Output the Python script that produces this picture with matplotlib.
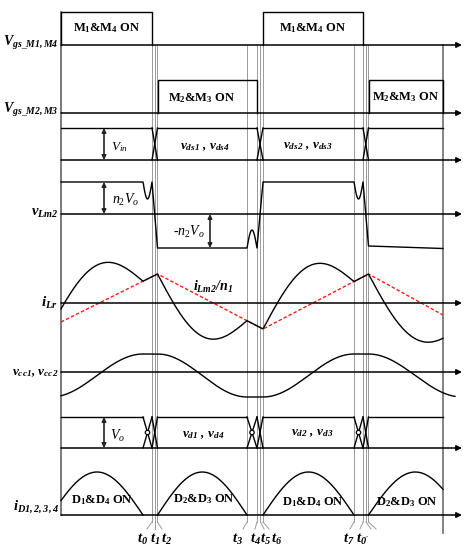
import numpy as np
import matplotlib
matplotlib.use('Agg')
import matplotlib.pyplot as plt
from matplotlib.patches import Circle

plt.rcParams.update({
    'mathtext.fontset': 'custom',
    'mathtext.rm': 'Liberation Serif',
    'mathtext.it': 'Liberation Serif:italic',
    'mathtext.bf': 'Liberation Serif:bold',
    'mathtext.bfit': 'Liberation Serif:italic:bold',
    'font.family': ['Liberation Serif', 'DejaVu Serif'],
})

# ---------------- data (positions on the drawing sheet) ----------------
x_left, x_right, x_arrow = 61, 443, 462
# channel baselines
y_gs14, y_gs23, y_vds, y_vlm, y_ilr, y_vcc, y_vd, y_id = 45, 113, 160, 214, 303, 372, 448, 515
# gate pulses
m14_on = [(61, 152), (263, 363)]
m23_on = [(158, 257), (369, 443)]
gs14_high, gs23_high = 12, 80
# dead-time groups (vds crossings)
dead = [(152, 157.5), (257, 263), (363, 368.5)]
vds_high = 128
# diode-commutation groups: (diode off, crossing, resume)
vd_groups = [(143, 152, 157.5), (247, 257, 263), (354, 363, 368.5)]
vd_high = 417
# magnetizing-inductor voltage
vlm_high, vlm_low, vlm_low_end = 182, 248, 246
vlm_dips = [(143, 152), (354, 363)]
vlm_bump = (247, 257)
dip_depth, bump_height = 17, 18
# magnetizing current (red) vertices
ilm_x = [61, 157.5, 263, 368.5, 443]
ilm_y = [322, 274, 329, 274, 315]
# diode conduction arcs (start, end, +1 = D1&D4, -1 = D2&D3)
arcs = [(51, 143, 1), (157.5, 247, -1), (263, 354, 1), (368.5, 462, -1)]
ilr_amp, id_amp = 39, 43
vcc_top, vcc_bot, vcc_end = 354, 397, 455
# switching instants
event_x = [152, 155, 157.5, 247, 257, 260.5, 263, 354, 363, 366, 368.5]
tick_end_x = [147, 155, 162, 243, 255, 264, 269, 350, 360, 371, 376]
t_names = ['0', '1', '2', '3', '4', '5', '6', '7', "0'"]
t_label_x = [143, 155, 167, 238, 255, 266, 277, 349, 363]

# ---------------- figure ----------------
fig = plt.figure(figsize=(4.74, 5.5), dpi=100)
ax = fig.add_axes([0, 0, 1, 1])
ax.set_xlim(0, 474)
ax.set_ylim(550, 0)
ax.axis('off')

K = 'black'
G = '#9a9a9a'
lw = 1.0
BI = dict(fontweight='bold', fontstyle='italic')

# borders and gray event lines
ax.plot([x_left, x_left], [gs14_high, y_id], color='#6e6e6e', lw=1.3)
ax.plot([x_right, x_right], [y_gs14, 533], color='#6e6e6e', lw=1.2)
for xe, xt in zip(event_x, tick_end_x):
    ax.plot([xe, xe], [y_gs14, 522], color=G, lw=0.7)
    ax.plot([xe, xt], [522, 529], color=G, lw=0.7)
for nm, lx in zip(t_names, t_label_x):
    ax.text(lx, 539, r'$\mathbfit{t}_{\mathbfit{%s}}$' % nm, ha='center', va='center', fontsize=10.5)

# axes arrows
for yb in [y_gs14, y_gs23, y_vds, y_vlm, y_ilr, y_vcc, y_vd, y_id]:
    ax.annotate('', xy=(x_arrow, yb), xytext=(x_left, yb),
                arrowprops=dict(arrowstyle='-|>', color=K, lw=1.1, mutation_scale=8,
                                shrinkA=0, shrinkB=0))

# gate pulses
for (a, b) in m14_on:
    ax.plot([a, a, b, b], [y_gs14, gs14_high, gs14_high, y_gs14], color=K, lw=lw)
for (a, b) in m23_on:
    ax.plot([a, a, b, b], [y_gs23, gs23_high, gs23_high, y_gs23], color=K, lw=lw)
for (a, b) in m14_on:
    ax.text((a + b) / 2, 28.5, r'M$_\mathbf{1}$&M$_\mathbf{4}$ ON', ha='center', va='center', fontsize=9, fontweight='bold')
ax.text(202, 98, r'M$_\mathbf{2}$&M$_\mathbf{3}$ ON', ha='center', va='center', fontsize=9, fontweight='bold')
ax.text(406, 97, r'M$_\mathbf{2}$&M$_\mathbf{3}$ ON', ha='center', va='center', fontsize=9, fontweight='bold')

# vds
hs = [x_left] + [d[1] for d in dead]
he = [d[0] for d in dead] + [x_right]
for a, b in zip(hs, he):
    ax.plot([a, b], [vds_high, vds_high], color=K, lw=lw)
for (a, b) in dead:
    ax.plot([a, b], [vds_high, y_vds], color=K, lw=lw)
    ax.plot([a, b], [y_vds, vds_high], color=K, lw=lw)

# vLm2
def seg(x0, x1, n=40):
    return np.linspace(x0, x1, n)
xs, ys = [], []
xs += [x_left, vlm_dips[0][0]]; ys += [vlm_high, vlm_high]
xx = seg(*vlm_dips[0]); xs += list(xx); ys += list(vlm_high + dip_depth * np.sin(np.pi * (xx - vlm_dips[0][0]) / (vlm_dips[0][1] - vlm_dips[0][0])))
xs += [dead[0][1], vlm_bump[0]]; ys += [vlm_low, vlm_low]
xx = seg(*vlm_bump); xs += list(xx); ys += list(vlm_low - bump_height * np.sin(np.pi * (xx - vlm_bump[0]) / (vlm_bump[1] - vlm_bump[0])))
xs += [dead[1][1], vlm_dips[1][0]]; ys += [vlm_high, vlm_high]
xx = seg(*vlm_dips[1]); xs += list(xx); ys += list(vlm_high + dip_depth * np.sin(np.pi * (xx - vlm_dips[1][0]) / (vlm_dips[1][1] - vlm_dips[1][0])))
xs += [dead[2][1], x_right]; ys += [vlm_low_end, vlm_low + 0.5]
ax.plot(xs, ys, color=K, lw=lw)

# iLm (red) and iLr
ax.plot(ilm_x, ilm_y, color='#ff1a1a', lw=1.0, ls=(0, (2.5, 1.5)))
xg = np.linspace(x_left, x_right, 800)
ilr = np.interp(xg, ilm_x, ilm_y)
for (a, b, s) in arcs:
    m = (xg >= a) & (xg <= b)
    ilr[m] -= s * ilr_amp * np.sin(np.pi * (xg[m] - a) / (b - a))
ax.plot(xg, ilr, color=K, lw=lw)

# vcc
xv = np.linspace(x_left, vcc_end, 800)
mid, amp = (vcc_top + vcc_bot) / 2, (vcc_bot - vcc_top) / 2
vcc = np.empty_like(xv)
for i, x in enumerate(xv):
    val = None
    for (a, b, s) in arcs:
        if a <= x <= b:
            val = mid + s * amp * np.cos(np.pi * (x - a) / (b - a))
            break
    if val is None:
        prev = [arc for arc in arcs if arc[1] < x][-1]
        val = mid - prev[2] * amp
    vcc[i] = val
ax.plot(xv, vcc, color=K, lw=lw)

# vd
starts = [x_left] + [g[2] for g in vd_groups]
ends = [g[0] for g in vd_groups] + [x_right]
for a, b in zip(starts, ends):
    ax.plot([a, b], [vd_high, vd_high], color=K, lw=lw)
for (a, c, b) in vd_groups:
    ax.plot([a, c], [vd_high, y_vd], color=K, lw=lw)
    ax.plot([a, c], [y_vd, vd_high], color=K, lw=lw)
    ax.plot([c, b], [vd_high, y_vd], color=K, lw=lw)
    ax.plot([c, b], [y_vd, vd_high], color=K, lw=lw)
    ax.add_patch(Circle(((a + c) / 2, (vd_high + y_vd) / 2), 2.2, fill=True, fc='white', ec=K, lw=0.9, zorder=5))

# iD arcs
for (a, b, s) in arcs:
    xx = np.linspace(max(a, x_left), min(b, x_right), 200)
    ax.plot(xx, y_id - id_amp * np.sin(np.pi * (xx - a) / (b - a)), color=K, lw=lw)
d14 = r'D$_\mathbf{1}$&D$_\mathbf{4}$ ON'
d23 = r'D$_\mathbf{2}$&D$_\mathbf{3}$ ON'
ax.text(102, 500, d14, ha='center', va='center', fontsize=9, fontweight='bold')
ax.text(204, 499, d23, ha='center', va='center', fontsize=9, fontweight='bold')
ax.text(313, 502, d14, ha='center', va='center', fontsize=9, fontweight='bold')
ax.text(407, 502, d23, ha='center', va='center', fontsize=9, fontweight='bold')

# double arrows
def darrow(x, y0, y1):
    ax.annotate('', xy=(x, y0), xytext=(x, y1),
                arrowprops=dict(arrowstyle='<|-|>', color='#222222', lw=1.2, mutation_scale=6,
                                shrinkA=0, shrinkB=0))
darrow(104, vds_high, y_vds)
darrow(104, vlm_high, y_vlm)
darrow(210, y_vlm, vlm_low)
darrow(104, vd_high, y_vd)
ax.text(111, 147, r'$\mathit{V}_{\mathit{in}}$', ha='left', va='center', fontsize=9.5)
ax.text(112, 200, r'$\mathit{n}_{2}\mathit{V}_{\mathit{o}}$', ha='left', va='center', fontsize=10)
ax.text(173, 232, r'-$\mathit{n}_{2}\mathit{V}_{\mathit{o}}$', ha='left', va='center', fontsize=10, fontstyle='italic')
ax.text(110, 436, r'$\mathit{V}_{\mathit{o}}$', ha='left', va='center', fontsize=10)

# in-channel bold italic labels
def vv(sym, a, b):
    return r'$\mathbfit{%s}_{\mathbfit{%s}}$ , $\mathbfit{%s}_{\mathbfit{%s}}$' % (sym, a, sym, b)
ax.text(205, 147, vv('v', 'ds1', 'ds4'), ha='center', va='center', fontsize=9.5, **BI)
ax.text(308, 146, vv('v', 'ds2', 'ds3'), ha='center', va='center', fontsize=9.5, **BI)
ax.text(203, 435, vv('v', 'd1', 'd4'), ha='center', va='center', fontsize=9.5, **BI)
ax.text(312, 433, vv('v', 'd2', 'd3'), ha='center', va='center', fontsize=9.5, **BI)
ax.text(213, 287, r'$\mathbfit{i}_{\mathbfit{Lm2}}$/$\mathbfit{n}_{\mathbfit{1}}$', ha='center', va='center', fontsize=10, **BI)

# channel names
ax.text(58, 43, r'$\mathbfit{V}_{\mathbfit{gs}\_\mathbfit{M1,M4}}$', ha='right', va='center', fontsize=10)
ax.text(58, 110, r'$\mathbfit{V}_{\mathbfit{gs}\_\mathbfit{M2,M3}}$', ha='right', va='center', fontsize=10)
ax.text(59, 213, r'$\mathbfit{v}_{\mathbfit{Lm2}}$', ha='right', va='center', fontsize=10.5)
ax.text(58, 303, r'$\mathbfit{i}_{\mathbfit{Lr}}$', ha='right', va='center', fontsize=11)
ax.text(58, 373, r'$\mathbfit{v}_{\mathbfit{cc1}}$, $\mathbfit{v}_{\mathbfit{cc2}}$', ha='right', va='center', fontsize=9.5, **BI)
ax.text(59, 507, r'$\mathbfit{i}_{\mathbfit{D1,2,3,4}}$', ha='right', va='center', fontsize=10.5)

fig.savefig('out.png', dpi=100)
